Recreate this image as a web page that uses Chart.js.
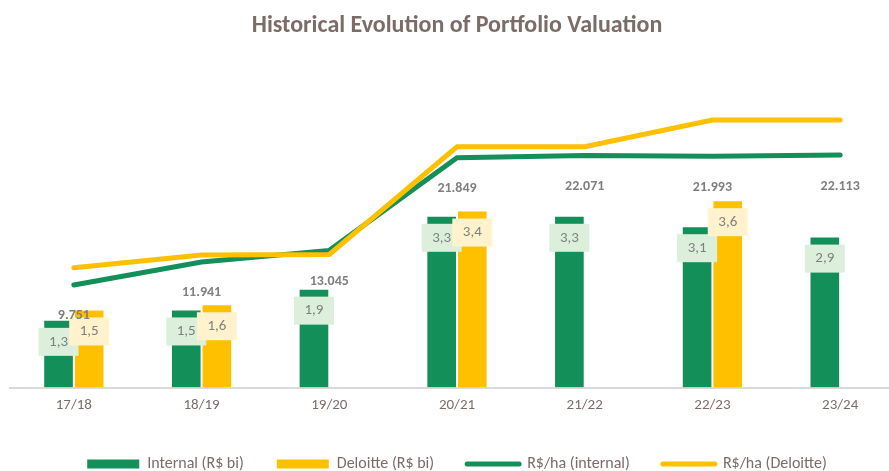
<!DOCTYPE html>
<html>
<head>
<meta charset="utf-8">
<script src="https://cdn.jsdelivr.net/npm/chart.js@4"></script>
<style>
  body { margin: 0; overflow: hidden; background: #fff; }
  #wrap { position: absolute; left: 0; top: 0; width: 914px; height: 482px; }
</style>
</head>
<body>
<div id="wrap"><canvas id="chart"></canvas></div>
<script>
const seasons = ['17/18', '18/19', '19/20', '20/21', '21/22', '22/23', '23/24'];
const internalBi = [1.3, 1.5, 1.9, 3.3, 3.3, 3.1, 2.9];
const deloitteBi = [1.5, 1.6, null, 3.4, null, 3.6, null];
const perHaInternal = [9751, 11941, 13045, 21849, 22071, 21993, 22113];
const perHaDeloitte = [11400, 12600, 12650, 22900, 22900, 25450, 25450];

const GREEN = '#138f59';
const YELLOW = '#ffc000';
const FONT = 'Carlito, Calibri, Lato, sans-serif';
const TEXT = '#7c6c68';

function thousands(v) {
    return String(v).replace(/\B(?=(\d{3})+(?!\d))/g, '.');
}

// draws the value boxes on the bars and the R$/ha numbers under the internal line
const valueLabels = {
    id: 'valueLabels',
    afterDatasetsDraw(chart) {
        const ctx = chart.ctx;
        const boxFill = ['#dcefdb', '#fff2cc'];
        ctx.save();
        ctx.textAlign = 'center';
        ctx.textBaseline = 'middle';
        [0, 1].forEach(i => {
            const meta = chart.getDatasetMeta(i);
            meta.data.forEach((bar, j) => {
                const v = chart.data.datasets[i].data[j];
                if (v == null) return;
                const y = bar.y + 22;
                ctx.fillStyle = boxFill[i];
                ctx.fillRect(bar.x - 20, y - 14, 40, 28);
                ctx.fillStyle = '#7f7f7f';
                ctx.font = '15px ' + FONT;
                ctx.fillText(v.toFixed(1).replace('.', ','), bar.x, y);
            });
        });
        const lineMeta = chart.getDatasetMeta(2);
        ctx.font = 'bold 14px ' + FONT;
        ctx.fillStyle = '#7f7f7f';
        lineMeta.data.forEach((pt, j) => {
            ctx.fillText(thousands(perHaInternal[j]), pt.x, pt.y + 31);
        });
        ctx.restore();
    }
};

const ctx = document.getElementById('chart').getContext('2d');
new Chart(ctx, {
    type: 'bar',
    data: {
        labels: seasons,
        datasets: [
            {
                label: 'Internal (R$ bi)',
                data: internalBi,
                backgroundColor: GREEN,
                borderColor: 'rgba(255,255,255,0.3)',
                borderWidth: 1,
                yAxisID: 'y',
                order: 2
            },
            {
                label: 'Deloitte (R$ bi)',
                data: deloitteBi,
                backgroundColor: YELLOW,
                borderColor: 'rgba(255,255,255,0.3)',
                borderWidth: 1,
                yAxisID: 'y',
                order: 2
            },
            {
                label: 'R$/ha (internal)',
                type: 'line',
                data: perHaInternal,
                borderColor: GREEN,
                backgroundColor: GREEN,
                borderWidth: 5,
                borderCapStyle: 'round',
                pointRadius: 0,
                fill: false,
                yAxisID: 'y1',
                order: 1
            },
            {
                label: 'R$/ha (Deloitte)',
                type: 'line',
                data: perHaDeloitte,
                borderColor: YELLOW,
                backgroundColor: YELLOW,
                borderWidth: 5,
                borderCapStyle: 'round',
                pointRadius: 0,
                fill: false,
                yAxisID: 'y1',
                order: 0
            }
        ]
    },
    options: {
        responsive: true,
        maintainAspectRatio: false,
        animation: false,
        layout: { padding: { left: 10, right: 10, top: 0, bottom: 0 } },
        datasets: {
            bar: { categoryPercentage: 0.48, barPercentage: 1.0 }
        },
        scales: {
            x: {
                grid: { display: false, drawTicks: false },
                border: { display: true, color: '#d9d9d9', width: 2 },
                // small lineHeight keeps the label where it is but leaves room for a wider legend
                ticks: { color: TEXT, font: { family: FONT, size: 15, lineHeight: 0.5 }, padding: 14 }
            },
            y: { display: false, min: 0, max: 6 },
            y1: { display: false, min: 0, max: 29700 }
        },
        plugins: {
            title: {
                display: true,
                text: 'Historical Evolution of Portfolio Valuation',
                color: TEXT,
                font: { family: FONT, size: 24, weight: 'bold' },
                padding: { top: 11.6, bottom: 34.9 }
            },
            legend: {
                display: true,
                position: 'bottom',
                labels: {
                    sort: (a, b) => a.datasetIndex - b.datasetIndex,
                    usePointStyle: true,
                    pointStyleWidth: 52,
                    boxHeight: 9,
                    padding: 33,
                    color: TEXT,
                    font: { family: FONT, size: 16 },
                    generateLabels(chart) {
                        const items = Chart.defaults.plugins.legend.labels.generateLabels(chart);
                        items.forEach(it => {
                            const ds = chart.data.datasets[it.datasetIndex];
                            if (ds.type === 'line') {
                                it.pointStyle = 'line';
                                it.lineWidth = 5;
                                it.strokeStyle = ds.borderColor;
                                it.lineCap = 'round';
                            } else {
                                it.pointStyle = 'rect';
                                it.lineWidth = 0;
                                it.fillStyle = ds.backgroundColor;
                            }
                        });
                        return items;
                    }
                }
            },
            tooltip: { enabled: false }
        }
    },
    plugins: [valueLabels]
});
</script>
</body>
</html>
